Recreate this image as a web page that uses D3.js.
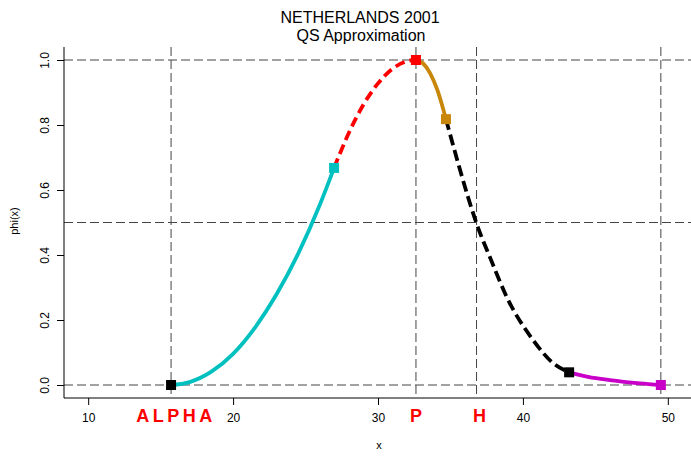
<!DOCTYPE html>
<html>
<head>
<meta charset="utf-8">
<script src="https://cdn.jsdelivr.net/npm/d3@7"></script>
<style>
  body { margin: 0; background: #fff; }
  svg { display: block; font-family: "Liberation Sans", Arial, sans-serif; }
</style>
</head>
<body>
<svg id="chart" width="691" height="456"></svg>
<script>
// reference lines (x positions) and their labels
var markX = [15.72, 32.62, 36.80, 49.52];
var markY = [0, 0.5, 1];
var markLabels = [["ALPHA", 15.72], ["P", 32.62], ["H", 37.0]];

// curve pieces
var seg1 = [[15.72,0],[17,0.009],[18.5,0.041],[20,0.096],[21.5,0.176],[23,0.279],[24.5,0.405],[26,0.556],[26.97,0.668]];
var seg2 = [[26.97,0.668],[28,0.777],[29,0.863],[30,0.928],[31,0.973],[32,0.996],[32.62,1.0]];
var seg3 = [[32.62,1.0],[33.1,0.990],[33.6,0.959],[34.1,0.907],[34.69,0.818]];
var seg4 = [[34.69,0.818],[35.66,0.662],[36.2,0.58],[36.8,0.497],[37.8,0.385],[38.87,0.272],[40.71,0.138],[42.09,0.067],[43.19,0.039]];
var seg5 = [[43.19,0.039],[44.5,0.025],[46.0,0.015],[48.07,0.005],[49.52,0.0]];

var knots = [[15.72,0,"#000000"],[26.97,0.668,"#00C0C0"],[32.62,1.0,"#FF0000"],[34.69,0.818,"#C8860B"],[43.19,0.039,"#000000"],[49.52,0.0,"#C800C8"]];

var xTicks = [10, 20, 30, 40, 50];
var yTicks = [0, 0.2, 0.4, 0.6, 0.8, 1.0];

var svg = d3.select("#chart");
var x = d3.scaleLinear().domain([8.4, 51.6]).range([65, 691]);
var y = d3.scaleLinear().domain([-0.04, 1.04]).range([398, 47]);

// dashed guide lines
svg.selectAll(".vline").data(markX).enter().append("line")
    .attr("x1", function(d) { return x(d); }).attr("x2", function(d) { return x(d); })
    .attr("y1", y.range()[1]).attr("y2", y.range()[0])
    .attr("stroke", "#444").attr("stroke-width", 1).attr("stroke-dasharray", "9,4");
svg.selectAll(".hline").data(markY).enter().append("line")
    .attr("x1", 64).attr("x2", 691)
    .attr("y1", function(d) { return y(d); }).attr("y2", function(d) { return y(d); })
    .attr("stroke", "#444").attr("stroke-width", 1).attr("stroke-dasharray", "9,4");

// axes
var xAxis = svg.append("g").attr("transform", "translate(0,398)")
    .call(d3.axisBottom(x).tickValues(xTicks).tickSize(7).tickPadding(8).tickFormat(d3.format("d")));
var yAxis = svg.append("g").attr("transform", "translate(64,0)")
    .call(d3.axisLeft(y).tickValues(yTicks).tickSize(7).tickFormat(d3.format(".1f")));
[xAxis, yAxis].forEach(function(g) {
  g.select(".domain").remove();
  g.selectAll(".tick line").attr("stroke", "#000");
  g.selectAll("text").attr("font-size", 12).attr("fill", "#000")
    .attr("font-family", "'Liberation Sans', Arial, sans-serif");
});
yAxis.selectAll(".tick text")
    .attr("text-anchor", "middle").attr("x", null)
    .attr("transform", "translate(-19,0) rotate(-90)").attr("dy", "0.35em");
svg.append("line").attr("x1", 64).attr("x2", 64).attr("y1", 47).attr("y2", 398).attr("stroke", "#000");
svg.append("line").attr("x1", 64).attr("x2", 691).attr("y1", 398).attr("y2", 398).attr("stroke", "#000");

// curve
var line = d3.line().x(function(d) { return x(d[0]); }).y(function(d) { return y(d[1]); }).curve(d3.curveMonotoneX);
var pieces = [[seg1,"#00C0C0",null],[seg2,"#FF0000","10,5"],[seg3,"#C8860B",null],[seg4,"#000000","11,5"],[seg5,"#C800C8",null]];
pieces.forEach(function(p) {
  svg.append("path").datum(p[0]).attr("d", line)
    .attr("fill", "none").attr("stroke", p[1]).attr("stroke-width", 3.8)
    .attr("stroke-dasharray", p[2]);
});

svg.selectAll(".knot").data(knots).enter().append("rect")
    .attr("x", function(d) { return x(d[0]) - 5; })
    .attr("y", function(d) { return y(d[1]) - 5; })
    .attr("width", 10).attr("height", 10)
    .attr("fill", function(d) { return d[2]; });

// labels
svg.selectAll(".mlab").data(markLabels).enter().append("text")
    .attr("x", function(d) { return x(d[1]); }).attr("y", 422)
    .attr("dx", function(d) { return d[0].length > 1 ? 5 : 0; })
    .attr("text-anchor", "middle").attr("font-size", 18).attr("font-weight", "bold")
    .attr("letter-spacing", function(d) { return d[0].length > 1 ? 3.5 : 0; })
    .attr("fill", "#FF0000").text(function(d) { return d[0]; });

svg.append("text").attr("x", 360).attr("y", 23).attr("text-anchor", "middle")
    .attr("font-size", 16).text("NETHERLANDS 2001");
svg.append("text").attr("x", 361).attr("y", 41).attr("text-anchor", "middle")
    .attr("font-size", 16).text("QS Approximation");
svg.append("text").attr("x", 379).attr("y", 449).attr("text-anchor", "middle")
    .attr("font-size", 11).text("x");
svg.append("text").attr("transform", "translate(18,221) rotate(-90)").attr("text-anchor", "middle")
    .attr("font-size", 11).text("phi(x)");
</script>
</body>
</html>
